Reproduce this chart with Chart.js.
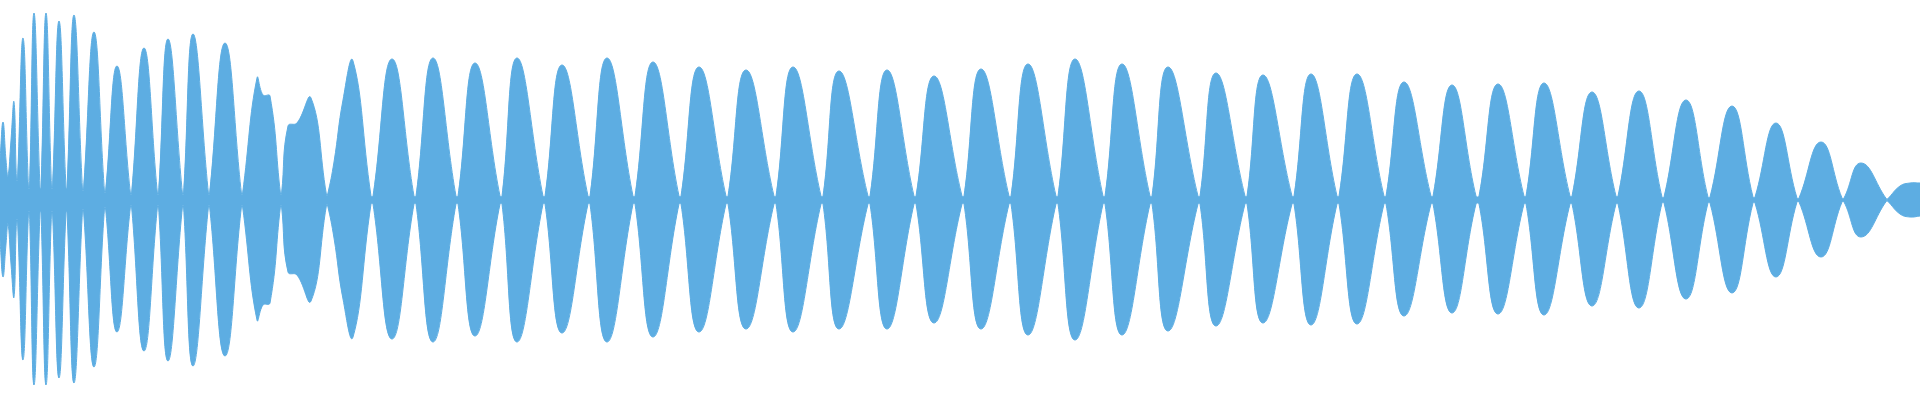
<!DOCTYPE html>
<html>
<head>
<meta charset="utf-8">
<script src="https://cdn.jsdelivr.net/npm/chart.js@4"></script>
<style>
  html, body { margin: 0; padding: 0; background: #ffffff; }
  #wrap { width: 1920px; height: 400px; position: relative; }
</style>
</head>
<body>
<div id="wrap"><canvas id="waveChart"></canvas></div>
<script>
// envelope of the waveform
// frame position along the clip, then top / bottom amplitude (-1..1)
const frames = [
  0, 3, 6, 8, 11, 14, 16.5, 17.5,
  23, 28.5, 29.5, 34, 40, 41, 46, 51.5, 52.5,
  59, 66, 67, 74, 82.5, 83.5, 94, 104.5, 105.5,
  117, 130.5, 131.5, 144, 157.5, 158.5, 168, 182.5, 183.5,
  193, 208.5, 209.5, 225, 241.5, 242.5,
  257, 263, 270, 280.5, 281.5,
  288, 297, 311, 326.5, 327.5,
  334, 343, 353, 371, 373,
  392, 414, 416, 433, 456, 458, 475, 500, 502,
  517, 543, 545, 562, 588, 590, 607, 633, 635,
  653, 679, 681, 699, 726, 728, 746, 774, 776,
  793, 821, 823, 839, 868, 870, 887, 914, 916,
  934, 962, 964, 981, 1009, 1011, 1028, 1056, 1058,
  1075, 1103, 1105, 1122, 1150, 1152, 1168, 1198, 1200,
  1216, 1245, 1247, 1263, 1292, 1294, 1311, 1337, 1339,
  1357, 1384, 1386, 1404, 1431, 1433, 1452, 1476, 1479,
  1498, 1524, 1526, 1544, 1570, 1572, 1592, 1616, 1618,
  1639, 1662, 1664, 1686, 1708, 1710, 1732, 1753, 1755,
  1776, 1797, 1799, 1821, 1842, 1844, 1861, 1886.5, 1887.5,
  1900, 1910, 1920
];

const upper = [
  0.2, 0.39, 0.2, 0.12, 0.3, 0.49, 0.1, 0.1,
  0.81, 0.06, 0.06, 0.935, 0.06, 0.06, 0.935, 0.06, 0.06,
  0.895, 0.06, 0.06, 0.925, 0.05, 0.05, 0.84, 0.04, 0.04,
  0.67, 0.03, 0.03, 0.76, 0.03, 0.03, 0.805, 0.03, 0.03,
  0.83, 0.03, 0.03, 0.785, 0.03, 0.03,
  0.61, 0.525, 0.52, 0.03, 0.03,
  0.37, 0.385, 0.51, 0.025, 0.025,
  0.19, 0.5, 0.695, 0.02, 0.02,
  0.705, 0.02, 0.02, 0.71, 0.02, 0.02, 0.685, 0.02, 0.02,
  0.71, 0.02, 0.02, 0.675, 0.02, 0.02, 0.71, 0.02, 0.02,
  0.69, 0.02, 0.02, 0.665, 0.02, 0.02, 0.65, 0.02, 0.02,
  0.665, 0.02, 0.02, 0.645, 0.02, 0.02, 0.65, 0.02, 0.02,
  0.62, 0.02, 0.02, 0.655, 0.02, 0.02, 0.68, 0.02, 0.02,
  0.705, 0.02, 0.02, 0.68, 0.02, 0.02, 0.665, 0.02, 0.02,
  0.635, 0.02, 0.02, 0.625, 0.02, 0.02, 0.63, 0.02, 0.02,
  0.63, 0.02, 0.02, 0.59, 0.02, 0.02, 0.575, 0.02, 0.02,
  0.58, 0.02, 0.02, 0.585, 0.02, 0.02, 0.54, 0.02, 0.02,
  0.545, 0.015, 0.015, 0.5, 0.015, 0.015, 0.47, 0.015, 0.015,
  0.385, 0.01, 0.01, 0.29, 0.01, 0.01, 0.185, 0.005, 0.005,
  0.07, 0.085, 0.085
];

const lower = [
  -0.2, -0.385, -0.22, -0.12, -0.32, -0.485, -0.1, -0.1,
  -0.8, -0.06, -0.06, -0.925, -0.06, -0.06, -0.925, -0.06, -0.06,
  -0.89, -0.06, -0.06, -0.915, -0.05, -0.05, -0.835, -0.04, -0.04,
  -0.66, -0.03, -0.03, -0.755, -0.03, -0.03, -0.805, -0.03, -0.03,
  -0.83, -0.03, -0.03, -0.78, -0.03, -0.03,
  -0.6, -0.525, -0.515, -0.03, -0.03,
  -0.36, -0.375, -0.505, -0.025, -0.025,
  -0.19, -0.495, -0.685, -0.02, -0.02,
  -0.695, -0.02, -0.02, -0.71, -0.02, -0.02, -0.68, -0.02, -0.02,
  -0.71, -0.02, -0.02, -0.665, -0.02, -0.02, -0.71, -0.02, -0.02,
  -0.685, -0.02, -0.02, -0.66, -0.02, -0.02, -0.645, -0.02, -0.02,
  -0.66, -0.02, -0.02, -0.645, -0.02, -0.02, -0.645, -0.02, -0.02,
  -0.615, -0.02, -0.02, -0.645, -0.02, -0.02, -0.675, -0.02, -0.02,
  -0.7, -0.02, -0.02, -0.675, -0.02, -0.02, -0.655, -0.02, -0.02,
  -0.63, -0.02, -0.02, -0.615, -0.02, -0.02, -0.625, -0.02, -0.02,
  -0.62, -0.02, -0.02, -0.58, -0.02, -0.02, -0.565, -0.02, -0.02,
  -0.57, -0.02, -0.02, -0.575, -0.02, -0.02, -0.53, -0.02, -0.02,
  -0.54, -0.015, -0.015, -0.495, -0.015, -0.015, -0.465, -0.015, -0.015,
  -0.385, -0.01, -0.01, -0.285, -0.01, -0.01, -0.185, -0.005, -0.005,
  -0.07, -0.085, -0.08
];

const waveColor = "#5dade2";

function toPoints(values) {
  return frames.map((f, i) => ({ x: f, y: values[i] }));
}

const ctx = document.getElementById("waveChart").getContext("2d");

window.waveChart = new Chart(ctx, {
  type: "line",
  data: {
    datasets: [
      {
        label: "top",
        data: toPoints(upper),
        borderColor: waveColor,
        backgroundColor: waveColor,
        borderWidth: 1,
        pointRadius: 0,
        tension: 0.45,
        fill: "+1",
      },
      {
        label: "bottom",
        data: toPoints(lower),
        borderColor: waveColor,
        backgroundColor: waveColor,
        borderWidth: 1,
        pointRadius: 0,
        tension: 0.45,
        fill: false,
      },
    ],
  },
  options: {
    responsive: true,
    maintainAspectRatio: false,
    animation: false,
    layout: { padding: 0 },
    plugins: {
      legend: { display: false },
      tooltip: { enabled: false },
    },
    scales: {
      x: { type: "linear", min: 0, max: 1920, display: false },
      y: { min: -1, max: 1, display: false },
    },
  },
});
</script>
</body>
</html>
